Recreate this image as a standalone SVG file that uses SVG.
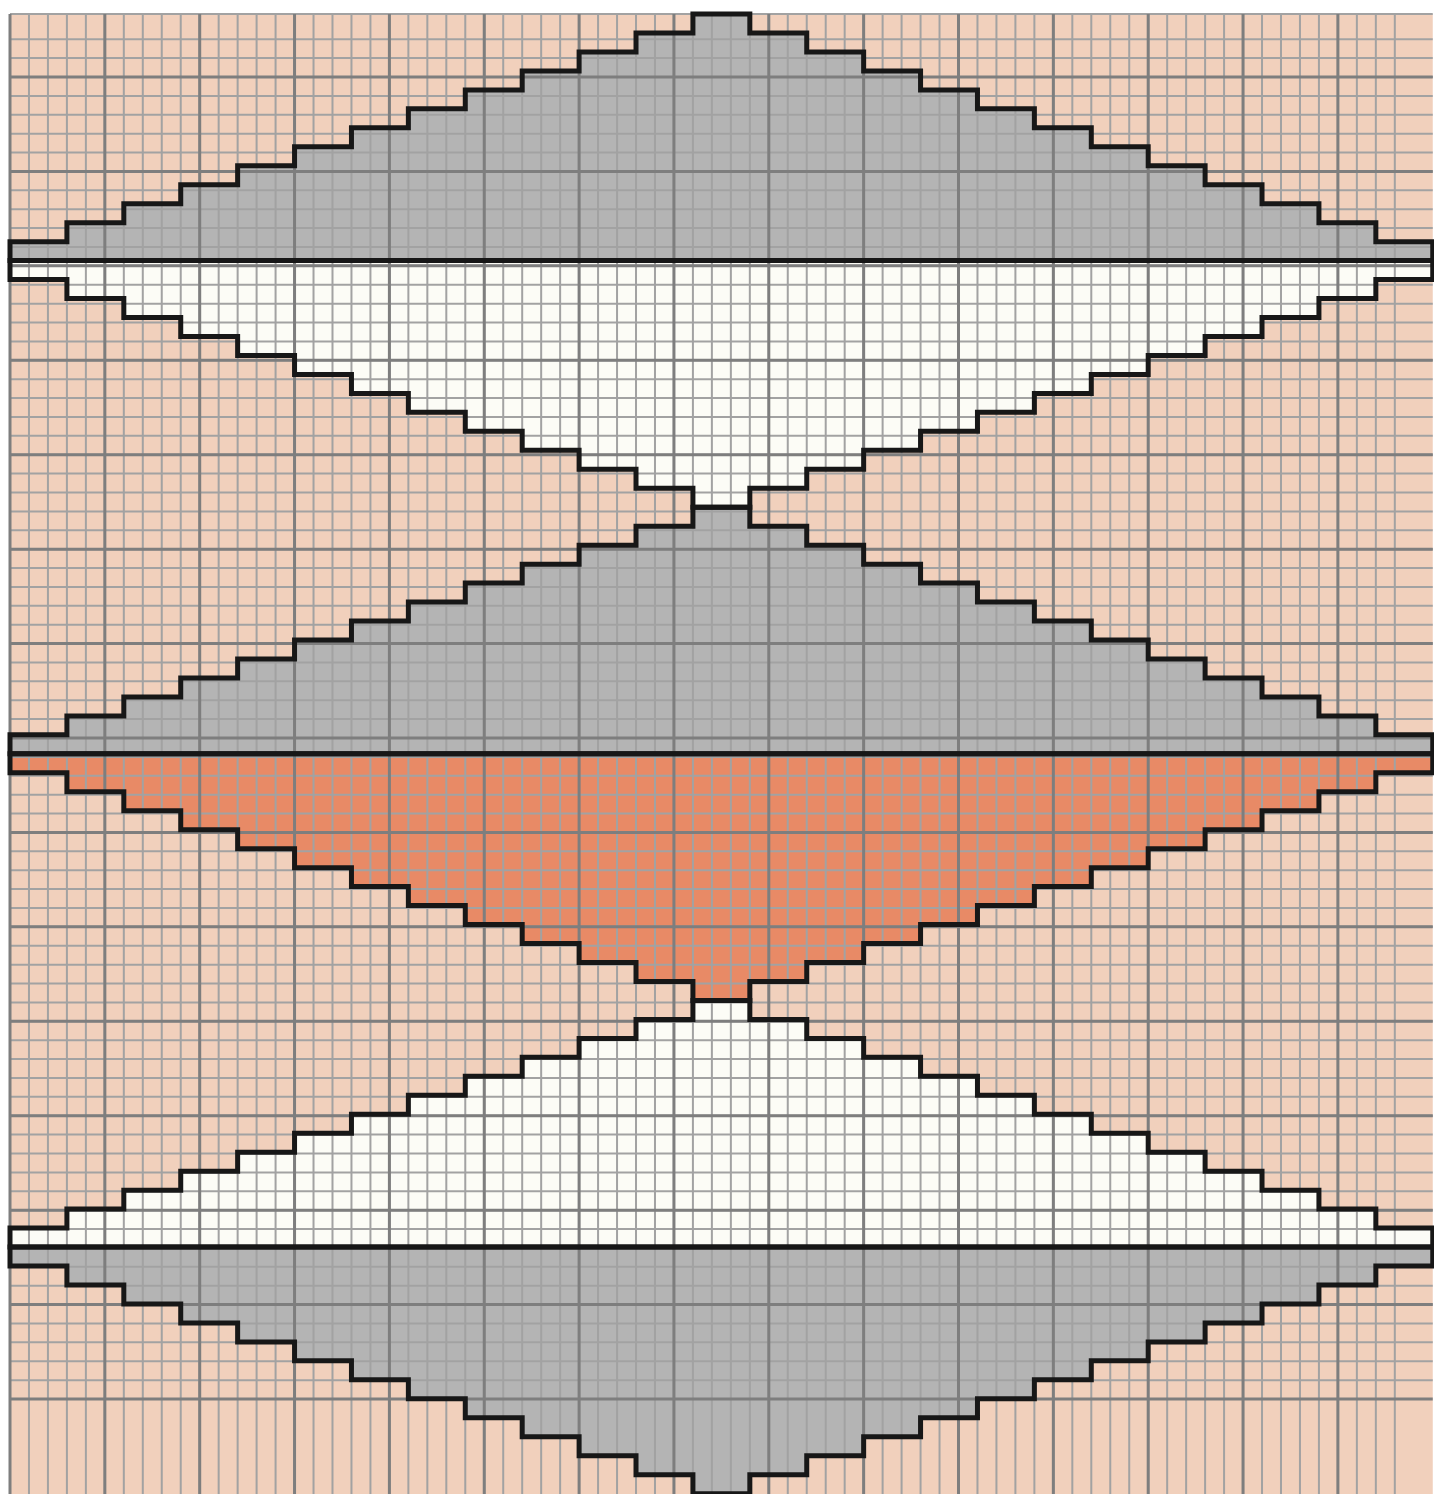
<svg xmlns="http://www.w3.org/2000/svg" width="1434" height="1494" viewBox="0 0 1434 1494">
<style>
.gray{fill:#b4b4b4}
.white{fill:#fcfcf6}
.orange{fill:#e88a66}
.minor{fill:none;stroke:#a2a2a2;stroke-width:2}
.major{fill:none;stroke:#7e7e7e;stroke-width:3}
.ol{fill:none;stroke:#171717;stroke-width:5;stroke-linejoin:miter}
</style>
<defs>
<path id="up" vector-effect="non-scaling-stroke" d="M36,0 H39 V1 H42 V2 H45 V3 H48 V4 H51 V5 H54 V6 H57 V7 H60 V8 H63 V9 H66 V10 H69 V11 H72 V12 H75 V13 H0 V12 H3 V11 H6 V10 H9 V9 H12 V8 H15 V7 H18 V6 H21 V5 H24 V4 H27 V3 H30 V2 H33 V1 H36 Z"/>
<path id="dn" vector-effect="non-scaling-stroke" d="M0,0 H75 V1 H72 V2 H69 V3 H66 V4 H63 V5 H60 V6 H57 V7 H54 V8 H51 V9 H48 V10 H45 V11 H42 V12 H39 V13 H36 V12 H33 V11 H30 V10 H27 V9 H24 V8 H21 V7 H18 V6 H15 V5 H12 V4 H9 V3 H6 V2 H3 V1 H0 Z"/>
</defs>
<rect x="0" y="0" width="1434" height="1494" fill="#ffffff"/>
<rect id="background" x="10" y="14" width="1422.75" height="1480" fill="#f1d0bc"/>
<g transform="translate(10,14) scale(18.97)">
<g id="top-gray"><use href="#up" class="gray"/></g>
<g id="top-white"><use href="#dn" class="white" transform="translate(0,13)"/></g>
<g id="mid-gray"><use href="#up" class="gray" transform="translate(0,26)"/></g>
<g id="mid-orange"><use href="#dn" class="orange" transform="translate(0,39)"/></g>
<g id="low-white"><use href="#up" class="white" transform="translate(0,52)"/></g>
<g id="low-gray"><use href="#dn" class="gray" transform="translate(0,65)"/></g>
</g>
<g id="grid">
<path class="minor" d="M10,14 v1480 m18.97,-1480v1480 m18.97,-1480v1480 m18.97,-1480v1480 m18.97,-1480v1480 m18.97,-1480v1480 m18.97,-1480v1480 m18.97,-1480v1480 m18.97,-1480v1480 m18.97,-1480v1480 m18.97,-1480v1480 m18.97,-1480v1480 m18.97,-1480v1480 m18.97,-1480v1480 m18.97,-1480v1480 m18.97,-1480v1480 m18.97,-1480v1480 m18.97,-1480v1480 m18.97,-1480v1480 m18.97,-1480v1480 m18.97,-1480v1480 m18.97,-1480v1480 m18.97,-1480v1480 m18.97,-1480v1480 m18.97,-1480v1480 m18.97,-1480v1480 m18.97,-1480v1480 m18.97,-1480v1480 m18.97,-1480v1480 m18.97,-1480v1480 m18.97,-1480v1480 m18.97,-1480v1480 m18.97,-1480v1480 m18.97,-1480v1480 m18.97,-1480v1480 m18.97,-1480v1480 m18.97,-1480v1480 m18.97,-1480v1480 m18.97,-1480v1480 m18.97,-1480v1480 m18.97,-1480v1480 m18.97,-1480v1480 m18.97,-1480v1480 m18.97,-1480v1480 m18.97,-1480v1480 m18.97,-1480v1480 m18.97,-1480v1480 m18.97,-1480v1480 m18.97,-1480v1480 m18.97,-1480v1480 m18.97,-1480v1480 m18.97,-1480v1480 m18.97,-1480v1480 m18.97,-1480v1480 m18.97,-1480v1480 m18.97,-1480v1480 m18.97,-1480v1480 m18.97,-1480v1480 m18.97,-1480v1480 m18.97,-1480v1480 m18.97,-1480v1480 m18.97,-1480v1480 m18.97,-1480v1480 m18.97,-1480v1480 m18.97,-1480v1480 m18.97,-1480v1480 m18.97,-1480v1480 m18.97,-1480v1480 m18.97,-1480v1480 m18.97,-1480v1480 m18.97,-1480v1480 m18.97,-1480v1480 m18.97,-1480v1480 m18.97,-1480v1480"/>
<path class="minor" d="M10,14 h1422.75 M10,39.226 h1422.75 m-1422.75,18.886h1422.75 m-1422.75,18.886h1422.75 m-1422.75,18.886h1422.75 m-1422.75,18.886h1422.75 m-1422.75,18.886h1422.75 m-1422.75,18.886h1422.75 m-1422.75,18.886h1422.75 m-1422.75,18.886h1422.75 m-1422.75,18.886h1422.75 m-1422.75,18.886h1422.75 m-1422.75,18.886h1422.75 m-1422.75,18.886h1422.75 m-1422.75,18.886h1422.75 m-1422.75,18.886h1422.75 m-1422.75,18.886h1422.75 m-1422.75,18.886h1422.75 m-1422.75,18.886h1422.75 m-1422.75,18.886h1422.75 m-1422.75,18.886h1422.75 m-1422.75,18.886h1422.75 m-1422.75,18.886h1422.75 m-1422.75,18.886h1422.75 m-1422.75,18.886h1422.75 m-1422.75,18.886h1422.75 m-1422.75,18.886h1422.75 m-1422.75,18.886h1422.75 m-1422.75,18.886h1422.75 m-1422.75,18.886h1422.75 m-1422.75,18.886h1422.75 m-1422.75,18.886h1422.75 m-1422.75,18.886h1422.75 m-1422.75,18.886h1422.75 m-1422.75,18.886h1422.75 m-1422.75,18.886h1422.75 m-1422.75,18.886h1422.75 m-1422.75,18.886h1422.75 m-1422.75,18.886h1422.75 m-1422.75,18.886h1422.75 m-1422.75,18.886h1422.75 m-1422.75,18.886h1422.75 m-1422.75,18.886h1422.75 m-1422.75,18.886h1422.75 m-1422.75,18.886h1422.75 m-1422.75,18.886h1422.75 m-1422.75,18.886h1422.75 m-1422.75,18.886h1422.75 m-1422.75,18.886h1422.75 m-1422.75,18.886h1422.75 m-1422.75,18.886h1422.75 m-1422.75,18.886h1422.75 m-1422.75,18.886h1422.75 m-1422.75,18.886h1422.75 m-1422.75,18.886h1422.75 m-1422.75,18.886h1422.75 m-1422.75,18.886h1422.75 m-1422.75,18.886h1422.75 m-1422.75,18.886h1422.75 m-1422.75,18.886h1422.75 m-1422.75,18.886h1422.75 m-1422.75,18.886h1422.75 m-1422.75,18.886h1422.75 m-1422.75,18.886h1422.75 m-1422.75,18.886h1422.75 m-1422.75,18.886h1422.75 m-1422.75,18.886h1422.75 m-1422.75,18.886h1422.75 m-1422.75,18.886h1422.75 m-1422.75,18.886h1422.75 m-1422.75,18.886h1422.75 m-1422.75,18.886h1422.75 m-1422.75,18.886h1422.75"/>
<path class="major" d="M10,14 v1480 m94.85,-1480v1480 m94.85,-1480v1480 m94.85,-1480v1480 m94.85,-1480v1480 m94.85,-1480v1480 m94.85,-1480v1480 m94.85,-1480v1480 m94.85,-1480v1480 m94.85,-1480v1480 m94.85,-1480v1480 m94.85,-1480v1480 m94.85,-1480v1480 m94.85,-1480v1480 m94.85,-1480v1480"/>
<path class="major" d="M10,77 h1422.75 m-1422.75,94.43h1422.75 m-1422.75,94.43h1422.75 m-1422.75,94.43h1422.75 m-1422.75,94.43h1422.75 m-1422.75,94.43h1422.75 m-1422.75,94.43h1422.75 m-1422.75,94.43h1422.75 m-1422.75,94.43h1422.75 m-1422.75,94.43h1422.75 m-1422.75,94.43h1422.75 m-1422.75,94.43h1422.75 m-1422.75,94.43h1422.75 m-1422.75,94.43h1422.75 m-1422.75,94.43h1422.75"/>
</g>
<g id="outlines" transform="translate(10,14) scale(18.97)">
<use href="#up" class="ol"/>
<use href="#dn" class="ol" transform="translate(0,13)"/>
<use href="#up" class="ol" transform="translate(0,26)"/>
<use href="#dn" class="ol" transform="translate(0,39)"/>
<use href="#up" class="ol" transform="translate(0,52)"/>
<use href="#dn" class="ol" transform="translate(0,65)"/>
</g>
</svg>
